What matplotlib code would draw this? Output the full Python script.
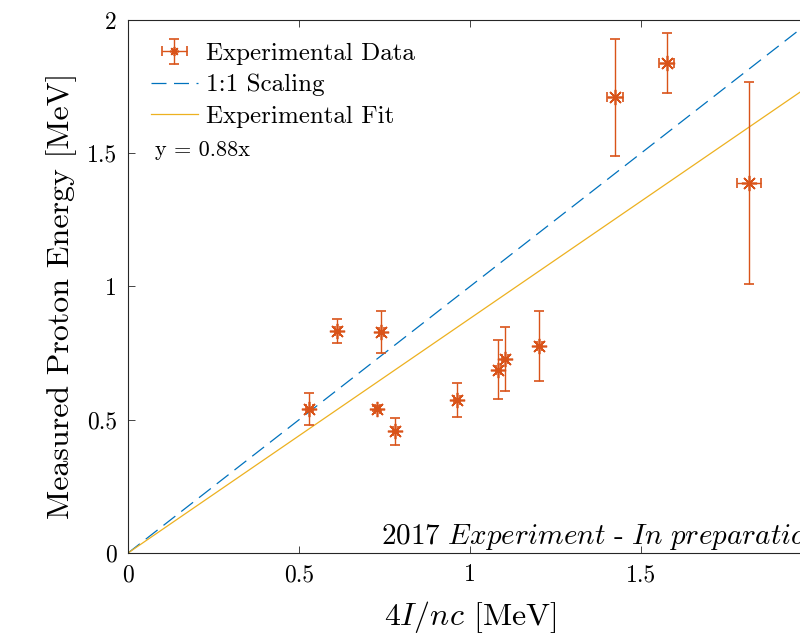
import numpy as np
import matplotlib
matplotlib.use("Agg")
import matplotlib.pyplot as plt

plt.rcParams['font.family'] = ['cmr10', 'DejaVu Serif']
plt.rcParams['mathtext.fontset'] = 'cm'
plt.rcParams['axes.unicode_minus'] = False
plt.rcParams['axes.formatter.use_mathtext'] = True

# Data
x_vals = [0.530, 0.612, 0.741, 0.729, 0.782, 0.962, 1.083, 1.103, 1.203, 1.424, 1.575, 1.816]
y_vals = [0.542, 0.832, 0.829, 0.542, 0.456, 0.574, 0.688, 0.729, 0.777, 1.710, 1.838, 1.389]
y_err = [0.060, 0.045, 0.080, 0.010, 0.050, 0.064, 0.110, 0.120, 0.130, 0.220, 0.113, 0.380]
x_err = [0.010, 0.008, 0.008, 0.008, 0.008, 0.008, 0.008, 0.008, 0.008, 0.022, 0.022, 0.035]

fit_slope = 0.88
line_x = [0, 2]

x_ticks = [0, 0.5, 1, 1.5, 2]
x_tick_labels = ['0', '0.5', '1', '1.5', '']   # the "2" label lies beyond the figure edge
y_ticks = [0, 0.5, 1, 1.5, 2]
y_tick_labels = ['0', '0.5', '1', '1.5', '2']

fig = plt.figure(figsize=(8, 6.38), dpi=100)
ax = fig.add_axes([0.16, 0.1332, 0.855, 0.8355])

c_err = '#D95319'
c_blue = '#0072BD'
c_yel = '#EDB120'

h_data = ax.errorbar(x_vals, y_vals, yerr=y_err, xerr=x_err, fmt='', marker=(8, 2, 0),
                     linestyle='none', ms=11, mew=1.2, color=c_err, ecolor=c_err,
                     elinewidth=1.0, capsize=3.5, capthick=1.0, zorder=3,
                     label='Experimental Data')
h_one, = ax.plot(line_x, line_x, linestyle=(0, (12, 6)), color=c_blue, lw=0.9,
                 label='1:1 Scaling')
h_fit, = ax.plot(line_x, [fit_slope * v for v in line_x], '-', color=c_yel, lw=0.9,
                 label='Experimental Fit')

ax.set_xlim(0, 2)
ax.set_ylim(0, 2)
ax.set_xticks(x_ticks)
ax.set_xticklabels(x_tick_labels)
ax.set_yticks(y_ticks)
ax.set_yticklabels(y_tick_labels)
ax.tick_params(direction='in', top=True, right=True, labelsize=17, length=5,
               width=0.6, color='#262626', pad=8)
for s in ax.spines.values():
    s.set_linewidth(0.8)
    s.set_color('#262626')

ax.set_xlabel(r'$4I/nc$ [MeV]', fontsize=23, labelpad=9)
ax.set_ylabel('Measured Proton Energy [MeV]', fontsize=23, labelpad=8)
ax.yaxis.set_label_coords(-0.074, 0.483)

leg = ax.legend([h_data, h_one, h_fit],
                ['Experimental Data', '1:1 Scaling', 'Experimental Fit'],
                loc='upper left', frameon=False, fontsize=18,
                bbox_to_anchor=(0.0, 1.0), borderaxespad=0.5,
                handlelength=1.9, handletextpad=0.3, labelspacing=0.36,
                markerscale=0.6)
ax.text(0.04, 0.755, 'y = 0.88x', transform=ax.transAxes, fontsize=16,
        ha='left', va='center')
ax.text(0.37, 0.016, r'$\mathit{2017\ Experiment\ \text{-}\ In\ preparation}$',
        transform=ax.transAxes, fontsize=21, ha='left', va='baseline', clip_on=False)

fig.savefig('out.png', dpi=100)
